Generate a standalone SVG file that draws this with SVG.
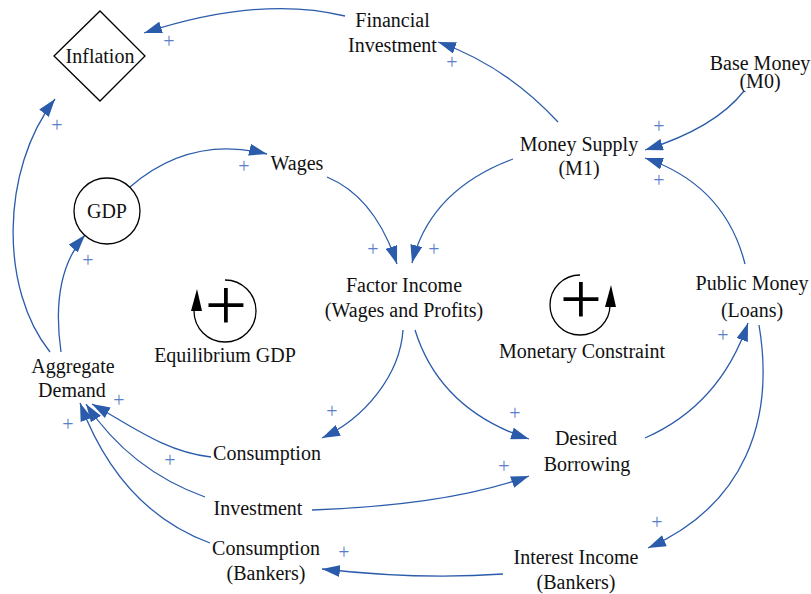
<svg xmlns="http://www.w3.org/2000/svg" width="811" height="594" viewBox="0 0 811 594">
<style>
  .t { font-family: "Liberation Serif", "Times New Roman", serif; font-size: 20px; fill: #111; text-anchor: middle; }
  .p { font-family: "Liberation Serif", "Times New Roman", serif; font-size: 20px; fill: #5a7fc8; text-anchor: middle; }
  .big { font-family: "Liberation Serif", "Times New Roman", serif; font-size: 75px; fill: #000; text-anchor: middle; }
  .c { fill: none; stroke: #2b5cab; stroke-width: 1.3; marker-end: url(#a); }
  .shape { fill: #fff; stroke: #000; stroke-width: 1.3; }
  .loop { fill: none; stroke: #000; stroke-width: 1.3; }
</style>
<defs>
  <marker id="a" viewBox="0 0 18 12" refX="18" refY="6" markerWidth="18" markerHeight="12" markerUnits="userSpaceOnUse" orient="auto">
    <path d="M0,0 L18,6 L0,12 z" fill="#2b5cab"/>
  </marker>
</defs>
<rect width="811" height="594" fill="#fff"/>

<g id="connectors">
  <path class="c" d="M345,16 Q260,-5 144,33"/>
  <path class="c" d="M558,122 Q505,65 438,42"/>
  <path class="c" d="M744,91 Q715,128 645,150"/>
  <path class="c" d="M745,264 Q725,185 645,158"/>
  <path class="c" d="M513,159 Q430,190 412,263"/>
  <path class="c" d="M327,177 Q375,197 397,264"/>
  <path class="c" d="M130,187 Q190,135 267,154"/>
  <path class="c" d="M61,352 Q50,275 85,235"/>
  <path class="c" d="M50,352 C0,290 0,170 55,99"/>
  <path class="c" d="M403,330 C400,375 365,418 322,438"/>
  <path class="c" d="M415,330 Q440,410 529,439"/>
  <path class="c" d="M645,438 Q720,405 748,323"/>
  <path class="c" d="M759,325 C775,420 745,505 648,548"/>
  <path class="c" d="M503,574 Q420,580 322,569"/>
  <path class="c" d="M312,510 Q450,505 529,476"/>
  <path class="c" d="M211,457 C165,452 130,425 92,404"/>
  <path class="c" d="M205,497 Q130,470 86,404"/>
  <path class="c" d="M210,543 Q120,510 80,403"/>
</g>

<g id="polarity">
  <text class="p" x="169" y="48">+</text>
  <text class="p" x="452" y="69">+</text>
  <text class="p" x="659" y="133">+</text>
  <text class="p" x="659" y="187">+</text>
  <text class="p" x="434" y="256">+</text>
  <text class="p" x="373" y="256">+</text>
  <text class="p" x="244" y="173">+</text>
  <text class="p" x="88" y="267">+</text>
  <text class="p" x="57" y="132">+</text>
  <text class="p" x="332" y="418">+</text>
  <text class="p" x="515" y="420">+</text>
  <text class="p" x="723" y="342">+</text>
  <text class="p" x="657" y="529">+</text>
  <text class="p" x="344" y="559">+</text>
  <text class="p" x="504" y="473">+</text>
  <text class="p" x="119" y="407">+</text>
  <text class="p" x="170" y="467">+</text>
  <text class="p" x="68" y="431">+</text>
</g>

<g id="inflation">
  <polygon class="shape" points="54,56 100,11 145,56 100,101"/>
  <text class="t" x="100" y="63">Inflation</text>
</g>
<g id="financial-investment">
  <text class="t" x="392.5" y="27">Financial</text>
  <text class="t" x="392.5" y="52">Investment</text>
</g>
<g id="base-money">
  <text class="t" x="760" y="70">Base Money</text>
  <text class="t" x="760" y="88">(M0)</text>
</g>
<g id="money-supply">
  <text class="t" x="579" y="151">Money Supply</text>
  <text class="t" x="579" y="175">(M1)</text>
</g>
<g id="gdp">
  <circle class="shape" cx="107" cy="211" r="33"/>
  <text class="t" x="107" y="218">GDP</text>
</g>
<g id="wages">
  <text class="t" x="297" y="170">Wages</text>
</g>
<g id="factor-income">
  <text class="t" x="404" y="292">Factor Income</text>
  <text class="t" x="404" y="317">(Wages and Profits)</text>
</g>
<g id="public-money">
  <text class="t" x="752" y="290">Public Money</text>
  <text class="t" x="752" y="317">(Loans)</text>
</g>
<g id="aggregate-demand">
  <text class="t" x="73" y="373">Aggregate</text>
  <text class="t" x="72" y="397">Demand</text>
</g>
<g id="consumption">
  <text class="t" x="267" y="460">Consumption</text>
</g>
<g id="investment">
  <text class="t" x="258" y="515">Investment</text>
</g>
<g id="consumption-bankers">
  <text class="t" x="266" y="555">Consumption</text>
  <text class="t" x="266" y="580">(Bankers)</text>
</g>
<g id="desired-borrowing">
  <text class="t" x="586" y="445">Desired</text>
  <text class="t" x="587" y="471">Borrowing</text>
</g>
<g id="interest-income">
  <text class="t" x="576" y="564">Interest Income</text>
  <text class="t" x="576" y="589">(Bankers)</text>
</g>

<g id="loop-equilibrium-gdp">
  <path class="loop" d="M225,280 A31,31 0 1,1 194,311"/>
  <polygon points="197,289 191,311 202,311" fill="#000"/>
  <text class="big" x="226" y="330">+</text>
  <text class="t" x="225" y="362">Equilibrium GDP</text>
</g>
<g id="loop-monetary-constraint">
  <path class="loop" d="M580,275 A30,30 0 1,0 610,305"/>
  <polygon points="611,285 605,307 616,307" fill="#000"/>
  <text class="big" x="581" y="324">+</text>
  <text class="t" x="582" y="358">Monetary Constraint</text>
</g>
</svg>
